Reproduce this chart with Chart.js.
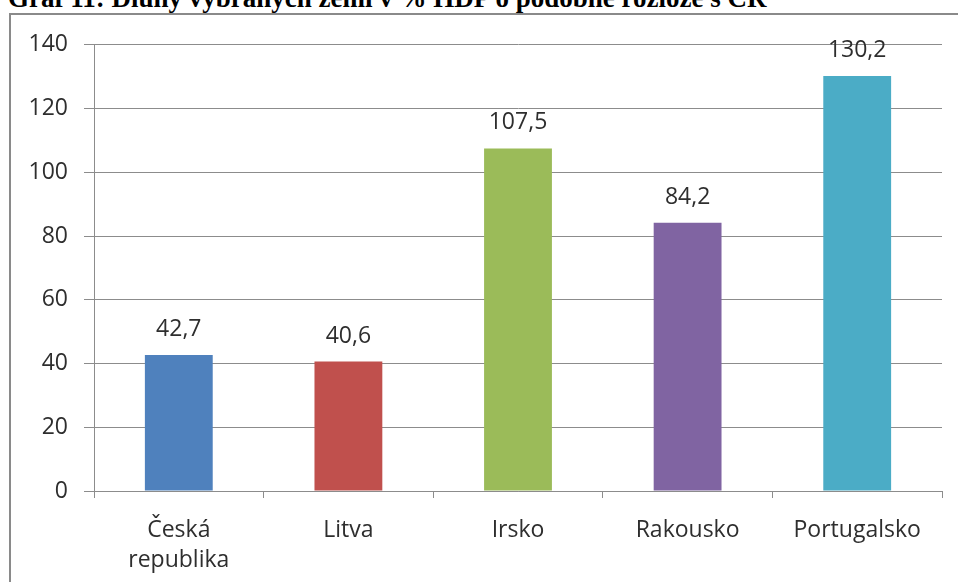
<!DOCTYPE html>
<html lang="cs">
<head>
    <meta charset="UTF-8">
    <title>Graf 11</title>
    <script src="https://cdn.jsdelivr.net/npm/chart.js"></script>
    <style>
        body {
            margin: 0;
            width: 958px;
            height: 582px;
            overflow: hidden;
            position: relative;
            background: #ffffff;
        }
        .title {
            position: absolute;
            left: 8px;
            top: -15px;
            font-family: "Liberation Serif", "Times New Roman", serif;
            font-weight: bold;
            font-size: 27px;
            line-height: 27px;
            white-space: nowrap;
            color: #000;
        }
        .frame {
            position: absolute;
            left: 9px;
            top: 13px;
            width: 1000px;
            height: 600px;
            border: 2px solid #8a8a8a;
            box-sizing: border-box;
        }
        .chart-box {
            position: absolute;
            left: 11px;
            top: 15px;
            width: 947px;
            height: 567px;
        }
    </style>
</head>
<body>
    <div class="title">Graf 11: Dluhy vybraných zemí v % HDP o podobné rozloze s ČR</div>
    <div class="frame"></div>
    <div class="chart-box">
        <canvas id="chart"></canvas>
    </div>

    <script>
        // data
        const countries = [['Česká', 'republika'], 'Litva', 'Irsko', 'Rakousko', 'Portugalsko'];
        const debtValues = [42.7, 40.6, 107.5, 84.2, 130.2];
        const barColors = ['#4F81BD', '#C0504D', '#9BBB59', '#8064A2', '#4BACC6'];
        const yTicks = [0, 20, 40, 60, 80, 100, 120, 140];

        const textFont = '"Open Sans", sans-serif';
        const textColor = '#2e2e2e';
        const gridColor = '#8c8c8c';

        // values above the bars, with decimal comma
        const valueLabels = {
            id: 'valueLabels',
            afterDatasetsDraw(chart) {
                const ctx = chart.ctx;
                const meta = chart.getDatasetMeta(0);
                ctx.save();
                ctx.font = '23px ' + textFont;
                ctx.fillStyle = textColor;
                ctx.textAlign = 'center';
                ctx.textBaseline = 'alphabetic';
                meta.data.forEach(function(bar, i) {
                    const txt = debtValues[i].toFixed(1).replace('.', ',');
                    ctx.fillText(txt, bar.x, bar.y - 19);
                });
                ctx.restore();
            }
        };

        const ctx = document.getElementById('chart').getContext('2d');
        new Chart(ctx, {
            type: 'bar',
            data: {
                labels: countries,
                datasets: [{
                    data: debtValues,
                    backgroundColor: barColors,
                    borderWidth: 0,
                    categoryPercentage: 1,
                    barPercentage: 0.4
                }]
            },
            options: {
                responsive: true,
                maintainAspectRatio: false,
                animation: false,
                layout: {
                    padding: { top: 0, right: 16, bottom: 0, left: 0 }
                },
                plugins: {
                    legend: { display: false },
                    tooltip: { enabled: false }
                },
                scales: {
                    x: {
                        grid: {
                            display: true,
                            drawOnChartArea: false,
                            drawTicks: true,
                            tickLength: 7,
                            color: gridColor,
                            offset: true
                        },
                        border: { color: gridColor, width: 1 },
                        ticks: {
                            color: textColor,
                            font: { family: textFont, size: 23, lineHeight: 1.3 },
                            padding: 18,
                            maxRotation: 0,
                            autoSkip: false
                        },
                        afterFit(scale) { scale.height = 91; }
                    },
                    y: {
                        min: 0,
                        max: 140,
                        afterBuildTicks(scale) {
                            scale.ticks = yTicks.map(v => ({ value: v }));
                        },
                        grid: {
                            color: gridColor,
                            lineWidth: 1,
                            drawTicks: true,
                            tickLength: 10
                        },
                        border: { color: gridColor, width: 1 },
                        ticks: {
                            color: textColor,
                            font: { family: textFont, size: 23 },
                            padding: 16
                        },
                        afterFit(scale) { scale.width = 83; }
                    }
                }
            },
            plugins: [valueLabels]
        });
    </script>
</body>
</html>
